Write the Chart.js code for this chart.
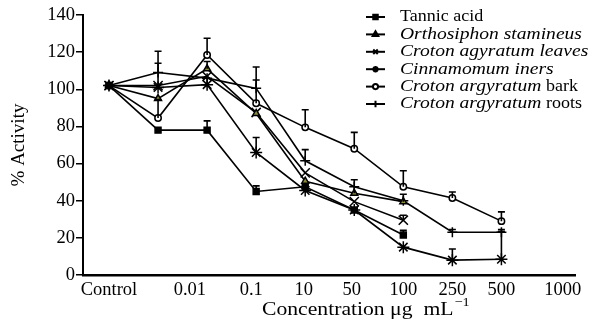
<!DOCTYPE html>
<html>
<head>
<meta charset="utf-8">
<script src="https://cdn.jsdelivr.net/npm/chart.js@4/dist/chart.umd.min.js"></script>
<style>
  html, body { margin: 0; padding: 0; background: #fff; }
  #wrap { width: 593px; height: 322px; }
</style>
</head>
<body>
<div id="wrap"><canvas id="activityChart" width="593" height="322"></canvas></div>
<script>
// Dose steps: Control plus eight concentrations, equally spaced on the plot
const doseSteps = [0, 1, 2, 3, 4, 5, 6, 7, 8];

// x tick labels and the dose-step value each one sits at
const xTickLabels = ['Control', '0.01', '0.1', '10', '50', '100', '250', '500', '1000'];
const xTickValues = [0, 1.65, 2.9, 3.97, 4.95, 6.0, 7.0, 8.0, 9.25];

const yTicks = [0, 20, 40, 60, 80, 100, 120, 140];

const seriesNames = [
  'Tannic acid',
  'Orthosiphon stamineus',
  'Croton agyratum leaves',
  'Cinnamomum iners',
  'Croton argyratum bark',
  'Croton argyratum roots'
];
// leading part of each name that is set in italics
const italicParts = ['', 'Orthosiphon stamineus', 'Croton agyratum leaves', 'Cinnamomum iners', 'Croton argyratum', 'Croton argyratum'];

// % activity per dose step (null = not measured)
const tannicAcid = [102, 78, 78, 45, 47.5, 35, 21.5, null, null];
const orthosiphon = [102, 95, 111, 87, 50.5, 44, 39.5, null, null];
const crotonLeaves = [102, 102, 107, 87.5, 55, 39.5, 29.5, null, null];
const cinnamomum = [102, 101, 102.5, 66, 45.5, 35, 15, 8, 8.5];
const crotonBark = [102, 84.5, 118.5, 92.5, 79.5, 68, 47.5, 41.5, 29];
const crotonRoots = [102, 109, 106, 100.5, 61.5, 47.5, 40, 23, 23];

// upper error bars (SD)
const tannicAcidErr = [0, 0, 5, 3, 0, 0, 2.6, 0, 0];
const orthosiphonErr = [0, 0, 4, 0, 0, 7.3, 4, 0, 0];
const crotonLeavesErr = [0, 18.5, 0, 0, 0, 0, 2.7, 0, 0];
const cinnamomumErr = [0, 0, 0, 8, 0, 0, 0, 6, 15];
const crotonBarkErr = [0, 10, 9, 12.5, 9.5, 8.8, 8.6, 3.2, 5];
const crotonRootsErr = [0, 5, 0, 11.5, 6, 0, 0, 1.5, 1.5];

const seriesValues = [tannicAcid, orthosiphon, crotonLeaves, cinnamomum, crotonBark, crotonRoots];
const seriesErrors = [tannicAcidErr, orthosiphonErr, crotonLeavesErr, cinnamomumErr, crotonBarkErr, crotonRootsErr];

const markerStyles = [
  { pointStyle: 'rect', radius: 4.2, fill: '#000000' },
  { pointStyle: 'triangle', radius: 4, fill: '#8c8c3a' },
  { pointStyle: 'crossRot', radius: 6.5, fill: '#000000' },
  { pointStyle: 'star', radius: 6, fill: '#000000' },
  { pointStyle: 'circle', radius: 3.2, fill: '#ffffff' },
  { pointStyle: 'cross', radius: 5, fill: '#000000' }
];

const serif = "'Liberation Serif', 'Times New Roman', serif";

function toPoints(values) {
  return doseSteps.map((x, i) => ({ x, y: values[i] })).filter((p) => p.y !== null);
}

const datasets = seriesValues.map((values, i) => ({
  label: seriesNames[i],
  data: toPoints(values),
  errors: seriesErrors[i],
  borderColor: '#000000',
  borderWidth: 1.6,
  pointStyle: markerStyles[i].pointStyle,
  pointRadius: markerStyles[i].radius,
  pointBackgroundColor: markerStyles[i].fill,
  pointBorderColor: '#000000',
  pointBorderWidth: 1.5,
  tension: 0,
  fill: false
}));

// Draw text with a horizontal stretch (the figure's type is wide)
function wideText(ctx, text, x, y, stretch) {
  ctx.save();
  ctx.translate(x, y);
  ctx.scale(stretch, 1);
  ctx.fillText(text, 0, 0);
  ctx.restore();
  return ctx.measureText(text).width * stretch;
}

// Upper error bars with caps
const errorBars = {
  id: 'errorBars',
  afterDatasetsDraw(chart) {
    const ctx = chart.ctx;
    const xs = chart.scales.x;
    const ys = chart.scales.y;
    ctx.save();
    ctx.strokeStyle = '#000000';
    ctx.lineWidth = 1.6;
    chart.data.datasets.forEach((ds) => {
      ds.data.forEach((p) => {
        const err = ds.errors[p.x];
        if (!err) return;
        const px = xs.getPixelForValue(p.x);
        const y0 = ys.getPixelForValue(p.y);
        const y1 = ys.getPixelForValue(p.y + err);
        ctx.beginPath();
        ctx.moveTo(px, y0);
        ctx.lineTo(px, y1);
        ctx.moveTo(px - 3.5, y1);
        ctx.lineTo(px + 3.5, y1);
        ctx.stroke();
      });
    });
    ctx.restore();
  }
};

// Legend box at the top right, plus the x-axis title with its superscript
const figureText = {
  id: 'figureText',
  afterDraw(chart) {
    const ctx = chart.ctx;
    ctx.save();
    ctx.textBaseline = 'middle';

    chart.data.datasets.forEach((ds, i) => {
      const rowY = 17 + i * 17.4;
      ctx.strokeStyle = '#000000';
      ctx.lineWidth = 2;
      ctx.beginPath();
      ctx.moveTo(366, rowY);
      ctx.lineTo(385, rowY);
      ctx.stroke();
      ctx.fillStyle = ds.pointBackgroundColor === '#8c8c3a' ? '#000000' : ds.pointBackgroundColor;
      Chart.helpers.drawPoint(ctx, {
        pointStyle: ds.pointStyle,
        radius: Math.min(ds.pointRadius, 4) * 0.8,
        borderWidth: 1.2
      }, 375.5, rowY);

      ctx.fillStyle = '#000000';
      const italic = italicParts[i];
      const rest = seriesNames[i].slice(italic.length);
      let x = 400;
      if (italic) {
        ctx.font = 'italic 17px ' + serif;
        x += wideText(ctx, italic, x, rowY, 1.15);
      }
      if (rest) {
        ctx.font = '17px ' + serif;
        wideText(ctx, rest, x, rowY, 1.06);
      }
    });

    // x-axis title
    ctx.textBaseline = 'alphabetic';
    ctx.font = '19px ' + serif;
    const main = 'Concentration \u03bcg  mL';
    const w = wideText(ctx, main, 262, 315, 1.14);
    ctx.font = '13px ' + serif;
    wideText(ctx, '\u22121', 262 + w + 1, 306, 1.1);
    ctx.restore();
  }
};

new Chart(document.getElementById('activityChart'), {
  type: 'line',
  data: { datasets },
  options: {
    responsive: false,
    animation: false,
    events: [],
    layout: { padding: { top: 15, right: 18, left: 0, bottom: 0 } },
    plugins: { legend: { display: false }, tooltip: { enabled: false } },
    scales: {
      x: {
        type: 'linear',
        min: -0.53,
        max: 9.5,
        afterBuildTicks: (scale) => {
          scale.ticks = xTickValues.map((value) => ({ value }));
        },
        afterFit: (scale) => { scale.height = 47; },
        grid: { display: false },
        border: { display: true, color: '#000000', width: 2.5 },
        ticks: {
          autoSkip: false,
          maxRotation: 0,
          padding: -4,
          color: '#000000',
          font: { family: serif, size: 18.5 },
          callback: (value, index) => xTickLabels[index]
        }
      },
      y: {
        min: 0,
        max: 140,
        afterBuildTicks: (scale) => {
          scale.ticks = yTicks.map((value) => ({ value }));
        },
        afterFit: (scale) => { scale.width = 83; },
        grid: { drawOnChartArea: false, drawTicks: true, tickLength: 7, color: '#000000', lineWidth: 1.5 },
        border: { display: true, color: '#000000', width: 2 },
        ticks: {
          padding: 1,
          color: '#000000',
          font: { family: serif, size: 18.5 }
        },
        title: {
          display: true,
          text: '% Activity',
          color: '#000000',
          font: { family: serif, size: 19 },
          padding: { top: 8, bottom: 0 }
        }
      }
    }
  },
  plugins: [errorBars, figureText]
});
</script>
</body>
</html>
